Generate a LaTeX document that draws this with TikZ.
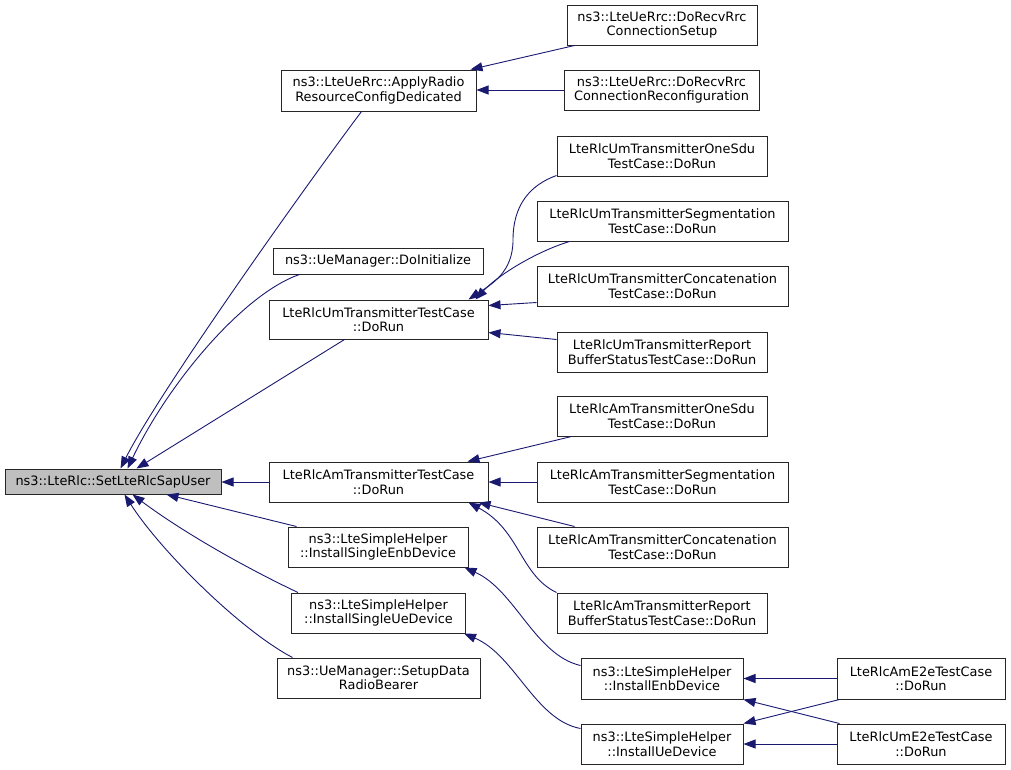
\documentclass[tikz,border=0pt]{standalone}
\usepackage{fontspec}
\setmainfont{DejaVu Sans}
\usetikzlibrary{arrows.meta,calc}
\definecolor{edgeblue}{HTML}{191970}
\definecolor{nodegray}{HTML}{BFBFBF}
\begin{document}
\begin{tikzpicture}[x=1pt,y=-1pt,
  box/.style={draw=black!85,line width=1pt,fill=white,inner sep=0pt,align=center,
    font=\fontsize{12.9}{14.5}\selectfont,minimum height=40pt},
  onel/.style={minimum height=25pt},
  arr/.style={draw=edgeblue,line width=0.9pt,-{Triangle[length=12pt,width=9pt]}}]
\useasboundingbox (0,0) rectangle (1011,769);
% nodes
\node[box,onel,fill=nodegray,minimum width=216pt] (set) at (113,481.5) {ns3::LteRlc::SetLteRlcSapUser};
\node[box,minimum width=195pt,minimum height=41pt] (apply) at (378.5,90.5) {ns3::LteUeRrc::ApplyRadio\\ResourceConfigDedicated};
\node[box,minimum width=190pt] (setup) at (662,25) {ns3::LteUeRrc::DoRecvRrc\\ConnectionSetup};
\node[box,minimum width=195pt] (reconf) at (661.5,90) {ns3::LteUeRrc::DoRecvRrc\\ConnectionReconfiguration};
\node[box,onel,minimum width=210pt,minimum height=26pt] (doinit) at (378,261) {ns3::UeManager::DoInitialize};
\node[box,minimum width=219pt,minimum height=39pt] (umtt) at (378.5,319.5) {LteRlcUmTransmitterTestCase\\::DoRun};
\node[box,minimum width=210pt] (onesdu) at (662,156) {LteRlcUmTransmitterOneSdu\\TestCase::DoRun};
\node[box,minimum width=251pt] (umseg) at (662.5,221) {LteRlcUmTransmitterSegmentation\\TestCase::DoRun};
\node[box,minimum width=251pt] (umconcat) at (662.5,286) {LteRlcUmTransmitterConcatenation\\TestCase::DoRun};
\node[box,minimum width=210pt] (umreport) at (662,352) {LteRlcUmTransmitterReport\\BufferStatusTestCase::DoRun};
\node[box,minimum width=210pt] (amonesdu) at (662,416) {LteRlcAmTransmitterOneSdu\\TestCase::DoRun};
\node[box,minimum width=219pt] (amtt) at (378.5,482) {LteRlcAmTransmitterTestCase\\::DoRun};
\node[box,minimum width=251pt] (amseg) at (662.5,482) {LteRlcAmTransmitterSegmentation\\TestCase::DoRun};
\node[box,minimum width=251pt] (amconcat) at (662.5,547) {LteRlcAmTransmitterConcatenation\\TestCase::DoRun};
\node[box,minimum width=210pt] (amreport) at (662,613) {LteRlcAmTransmitterReport\\BufferStatusTestCase::DoRun};
\node[box,minimum width=180pt] (singleenb) at (378,547) {ns3::LteSimpleHelper\\::InstallSingleEnbDevice};
\node[box,minimum width=174pt] (singleue) at (378.5,613) {ns3::LteSimpleHelper\\::InstallSingleUeDevice};
\node[box,minimum width=203pt] (setupdata) at (378.5,678) {ns3::UeManager::SetupData\\RadioBearer};
\node[box,minimum width=162pt,minimum height=41pt] (installenb) at (662,678.5) {ns3::LteSimpleHelper\\::InstallEnbDevice};
\node[box,minimum width=162pt] (installue) at (662,744) {ns3::LteSimpleHelper\\::InstallUeDevice};
\node[box,minimum width=168pt,minimum height=41pt] (ame2e) at (921,678.5) {LteRlcAmE2eTestCase\\::DoRun};
\node[box,minimum width=168pt] (ume2e) at (921,744) {LteRlcUmE2eTestCase\\::DoRun};
% edges into set
\draw[arr] ($(apply.south west)+(81,0)$) .. controls (310,180) and (160,390) .. ($(set.north west)+(116,0)$);
\draw[arr] ($(doinit.south west)+(27,0)$) .. controls (245,293) and (170,380) .. ($(set.north west)+(123,0)$);
\draw[arr] ($(umtt.south west)+(76,0)$) -- ($(set.north west)+(132,0)$);
\draw[arr] (amtt.west) -- (amtt.west -| set.east);
\draw[arr] ($(singleenb.north west)+(9,0)$) -- ($(set.south west)+(162,0)$);
\draw[arr] ($(singleue.north west)+(7,0)$) .. controls (240,565) and (180,530) .. ($(set.south west)+(128,0)$);
\draw[arr] ($(setupdata.north west)+(16,0)$) .. controls (240,630) and (160,550) .. ($(set.south west)+(120,0)$);
% edges into apply
\draw[arr] ($(setup.south west)+(8,0)$) -- ($(apply.north east)+(-6,0)$);
\draw[arr] (reconf.west) -- (reconf.west -| apply.east);
% edges into umtt
\draw[arr] ($(onesdu.south west)+(0,-1)$) .. controls (530,185) and (513,205) .. (513,240) .. controls (513,272) and (492,284) .. ($(umtt.north east)+(-20,0)$);
\draw[arr] ($(umseg.south west)+(33,0)$) .. controls (535,252) and (497,276) .. ($(umtt.north east)+(-13,0)$);
\draw[arr] ($(umconcat.south west)+(0,-4)$) -- ($(umtt.north east)+(0,6)$);
\draw[arr] ($(umreport.north west)+(0,8)$) -- ($(umtt.south east)+(0,-7)$);
% edges into amtt
\draw[arr] ($(amonesdu.south west)+(15,0)$) -- ($(amtt.north east)+(-21,0)$);
\draw[arr] (amseg.west) -- (amseg.west -| amtt.east);
\draw[arr] ($(amconcat.north west)+(38,0)$) -- ($(amtt.south east)+(-10,0)$);
\draw[arr] (amreport.north west) .. controls (520,575) and (520,530) .. ($(amtt.south east)+(-20,0)$);
% edges into single helpers
\draw[arr] ($(installenb.north west)+(0,8)$) .. controls (535,655) and (515,590) .. ($(singleenb.south east)+(-4,0)$);
\draw[arr] ($(installue.north west)+(0,5)$) .. controls (535,720) and (515,655) .. ($(singleue.south east)+(-2,0)$);
% e2e edges
\draw[arr] (ame2e.west) -- (ame2e.west -| installenb.east);
\draw[arr] ($(ume2e.north west)+(3,0)$) -- (installenb.south east);
\draw[arr] ($(ame2e.south west)+(3,0)$) -- (installue.north east);
\draw[arr] (ume2e.west) -- (ume2e.west -| installue.east);
\end{tikzpicture}
\end{document}
